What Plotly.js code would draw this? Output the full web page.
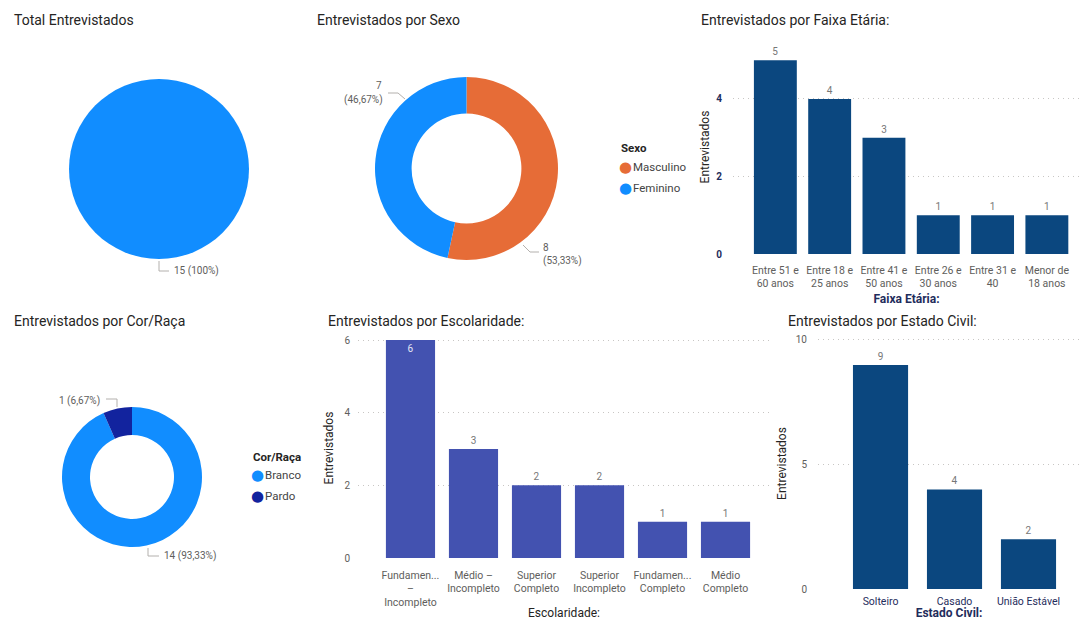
<!DOCTYPE html>
<html>
<head>
<meta charset="utf-8">
<script src="https://cdn.plot.ly/plotly-3.0.1.min.js"></script>
<style>html,body{margin:0;padding:0;background:#fff;}#chart{width:1080px;height:620px;}</style>
</head>
<body>
<div id="chart"></div>
<script>
// ---------- DATA ----------
const totalLabels = ["Total"];
const totalValues = [15];

const sexoLabels = ["Masculino", "Feminino"];
const sexoValues = [8, 7];

const racaLabels = ["Branco", "Pardo"];
const racaValues = [14, 1];

const faixaCategories = ["Entre 51 e 60 anos", "Entre 18 e 25 anos", "Entre 41 e 50 anos", "Entre 26 e 30 anos", "Entre 31 e 40", "Menor de 18 anos"];
const faixaTickLabels = ["Entre 51 e<br>60 anos", "Entre 18 e<br>25 anos", "Entre 41 e<br>50 anos", "Entre 26 e<br>30 anos", "Entre 31 e<br>40", "Menor de<br>18 anos"];
const faixaValues = [5, 4, 3, 1, 1, 1];

const escCategories = ["Fundamental – Incompleto", "Médio – Incompleto", "Superior Completo", "Superior Incompleto", "Fundamental Completo", "Médio Completo"];
const escTickLabels = ["Fundamen...<br>–<br>Incompleto", "Médio –<br>Incompleto", "Superior<br>Completo", "Superior<br>Incompleto", "Fundamen...<br>Completo", "Médio<br>Completo"];
const escValues = [6, 3, 2, 2, 1, 1];

const civilCategories = ["Solteiro", "Casado", "União Estável"];
const civilValues = [9, 4, 2];

// ---------- HELPERS ----------
const W = 1080, H = 620;
const fx = p => p / W;
const fy = p => 1 - p / H;
const FONT = "Roboto, 'Noto Sans', sans-serif";
const TITLE_C = "#252423";
const GRAY = "#605E5C";
const NAVY = "#1F2D5C";
const BLUE = "#118DFF", ORANGE = "#E66C37", DARKNAVY = "#12239E";
const BAR1 = "#0B477F", BAR2 = "#4352B0";

function fmtPct(v, tot) {
  const p = v / tot * 100;
  if (Math.abs(p - Math.round(p)) < 1e-9) return Math.round(p) + "%";
  return p.toFixed(2).replace(".", ",") + "%";
}
const sum = a => a.reduce((s, v) => s + v, 0);

function pieDomain(cx, cy, r) {
  return { x: [fx(cx - r), fx(cx + r)], y: [fy(cy + r), fy(cy - r)] };
}

// ---------- TRACES ----------
const traces = [];

traces.push({
  type: "pie", labels: totalLabels, values: totalValues,
  marker: { colors: [BLUE] }, textinfo: "none", sort: false,
  direction: "clockwise", rotation: 0, showlegend: false, hoverinfo: "label+value",
  domain: pieDomain(159, 169, 90)
});

traces.push({
  type: "pie", labels: sexoLabels, values: sexoValues, hole: 0.6,
  marker: { colors: [ORANGE, BLUE] }, textinfo: "none", sort: false,
  direction: "clockwise", rotation: 0, showlegend: false,
  domain: pieDomain(466.5, 168.5, 91.5)
});

traces.push({
  type: "pie", labels: racaLabels, values: racaValues, hole: 0.6,
  marker: { colors: [BLUE, DARKNAVY] }, textinfo: "none", sort: false,
  direction: "clockwise", rotation: 0, showlegend: false,
  domain: pieDomain(132, 477, 70)
});

traces.push({
  type: "bar", x: faixaCategories, y: faixaValues, xaxis: "x", yaxis: "y",
  marker: { color: BAR1 }, width: 0.79,
  text: faixaValues.map(String), textposition: "outside", cliponaxis: false,
  outsidetextfont: { family: FONT, size: 10, color: "#777" }, showlegend: false
});

traces.push({
  type: "bar", x: escCategories, y: escValues, xaxis: "x2", yaxis: "y2",
  marker: { color: BAR2 }, width: 0.78,
  text: escValues.map(String),
  textposition: escValues.map((v, i) => i === 0 ? "inside" : "outside"),
  insidetextanchor: "end", cliponaxis: false,
  insidetextfont: { family: FONT, size: 10, color: "#E4E6F5" },
  outsidetextfont: { family: FONT, size: 10, color: "#777" }, showlegend: false
});

traces.push({
  type: "bar", x: civilCategories, y: civilValues, xaxis: "x3", yaxis: "y3",
  marker: { color: BAR1 }, width: 0.745,
  text: civilValues.map(String), textposition: "outside", cliponaxis: false,
  outsidetextfont: { family: FONT, size: 10, color: "#777" }, showlegend: false
});

// ---------- AXES ----------
const gridStyle = { showgrid: true, gridcolor: "#C8C6C4", griddash: "1px,4px", gridwidth: 1, zeroline: false, showline: false };

const layout = {
  width: W, height: H, margin: { l: 0, r: 0, t: 0, b: 0 },
  paper_bgcolor: "#fff", plot_bgcolor: "#fff",
  font: { family: FONT, color: TITLE_C },
  separators: ",.",
  showlegend: false,
  xaxis: {
    domain: [fx(733), fx(1080)], range: [-0.78, 5.61], type: "category",
    tickvals: faixaCategories, ticktext: faixaTickLabels,
    tickfont: { size: 10.5, color: GRAY }, showgrid: false, zeroline: false,
    ticks: "outside", ticklen: 6, tickcolor: "rgba(0,0,0,0)",
    title: { text: "<b>Faixa Etária:</b>", font: { size: 12, color: NAVY }, standoff: 5 }, anchor: "y"
  },
  yaxis: Object.assign({}, gridStyle, {
    domain: [fy(254), fy(40)], range: [0, 5.52], dtick: 2, tick0: 0,
    tickfont: { size: 10, color: NAVY, weight: "bold" },
    ticks: "outside", ticklen: 8, tickcolor: "rgba(0,0,0,0)",
    title: { text: "Entrevistados", font: { size: 12, color: TITLE_C }, standoff: 4 }, anchor: "x"
  }),
  xaxis2: {
    domain: [fx(358), fx(770)], range: [-0.833, 5.706], type: "category",
    tickvals: escCategories, ticktext: escTickLabels,
    tickfont: { size: 10.5, color: GRAY }, showgrid: false, zeroline: false,
    ticks: "outside", ticklen: 7, tickcolor: "rgba(0,0,0,0)",
    title: { text: "Escolaridade:", font: { size: 12, color: TITLE_C }, standoff: 6 }, anchor: "y2"
  },
  yaxis2: Object.assign({}, gridStyle, {
    domain: [fy(558), fy(338)], range: [0, 6.055], dtick: 2, tick0: 0,
    tickfont: { size: 10, color: GRAY },
    ticks: "outside", ticklen: 5, tickcolor: "rgba(0,0,0,0)",
    title: { text: "Entrevistados", font: { size: 12, color: TITLE_C }, standoff: 8 }, anchor: "x2"
  }),
  xaxis3: {
    domain: [fx(818), 1], range: [-0.845, 2.696], type: "category",
    tickfont: { size: 10.5, color: NAVY }, showgrid: false, zeroline: false,
    ticks: "outside", ticklen: 2, tickcolor: "rgba(0,0,0,0)",
    title: { text: "<b>Estado Civil:</b>", font: { size: 12, color: NAVY }, standoff: 1 }, anchor: "y3"
  },
  yaxis3: Object.assign({}, gridStyle, {
    domain: [fy(589), fy(338)], range: [0, 10.08], dtick: 5, tick0: 0,
    tickfont: { size: 10, color: GRAY },
    ticks: "outside", ticklen: 8, tickcolor: "rgba(0,0,0,0)",
    title: { text: "Entrevistados", font: { size: 12, color: TITLE_C }, standoff: 6 }, anchor: "x3"
  }),
  annotations: [],
  shapes: []
};

// ---------- PANEL TITLES ----------
const panelTitles = [
  ["Total Entrevistados", 12, 20],
  ["Entrevistados por Sexo", 315, 20],
  ["Entrevistados por Faixa Etária:", 699, 20],
  ["Entrevistados por Cor/Raça", 12, 321],
  ["Entrevistados por Escolaridade:", 326, 321],
  ["Entrevistados por Estado Civil:", 786, 321]
];
panelTitles.forEach(([t, x, y]) => layout.annotations.push({
  text: t, xref: "paper", yref: "paper", x: fx(x), y: fy(y), xanchor: "left", yanchor: "middle",
  showarrow: false, font: { size: 14, color: TITLE_C, family: FONT }
}));

// ---------- PIE DATA LABELS + LEADERS ----------
const lblFont = { size: 10, color: GRAY, family: FONT };
function addLabel(text, x, y, xanchor) {
  layout.annotations.push({ text, xref: "paper", yref: "paper", x: fx(x), y: fy(y),
    xanchor, yanchor: "middle", showarrow: false, font: lblFont, align: xanchor });
}
function addLeader(pts) {
  const d = pts.map((p, i) => (i ? "L" : "M") + fx(p[0]) + "," + fy(p[1])).join(" ");
  layout.shapes.push({ type: "path", xref: "paper", yref: "paper", path: d, line: { color: "#B3B0AD", width: 1 } });
}
const tTot = sum(totalValues), tSex = sum(sexoValues), tRaca = sum(racaValues);

addLabel(totalValues[0] + " (" + fmtPct(totalValues[0], tTot) + ")", 172, 271, "left");
addLeader([[159, 261], [159, 271], [169, 271]]);

addLabel(String(sexoValues[1]), 384, 86, "right");
addLabel("(" + fmtPct(sexoValues[1], tSex) + ")", 385, 100, "right");
addLeader([[388, 93], [398, 93], [405, 99]]);
addLabel(String(sexoValues[0]), 541, 247, "left");
addLabel("(" + fmtPct(sexoValues[0], tSex) + ")", 541, 261, "left");
addLeader([[523, 245], [530, 252], [539, 252]]);

addLabel(racaValues[1] + " (" + fmtPct(racaValues[1], tRaca) + ")", 102, 401, "right");
addLeader([[106, 399], [117, 399], [117, 407]]);
addLabel(racaValues[0] + " (" + fmtPct(racaValues[0], tRaca) + ")", 162, 556, "left");
addLeader([[148, 548], [148, 556], [159, 556]]);

// ---------- PIE LEGENDS ----------
function addLegend(title, labels, colors, x, yTitle, yItems) {
  layout.annotations.push({ text: "<b>" + title + "</b>", xref: "paper", yref: "paper",
    x: fx(x), y: fy(yTitle), xanchor: "left", yanchor: "middle", showarrow: false,
    font: { size: 11.5, color: TITLE_C, family: FONT } });
  labels.forEach((l, i) => {
    layout.annotations.push({
      text: "●", xref: "paper", yref: "paper", x: fx(x + 6), y: fy(yItems[i] - 0.5), xanchor: "center", yanchor: "middle",
      showarrow: false, font: { size: 15, color: colors[i], family: "DejaVu Sans" } });
    layout.annotations.push({
      text: l, xref: "paper", yref: "paper", x: fx(x + 12), y: fy(yItems[i]), xanchor: "left", yanchor: "middle",
      showarrow: false, font: { size: 11.5, color: "#444", family: FONT } });
  });
}
addLegend("Sexo", sexoLabels, [ORANGE, BLUE], 619, 148, [167, 188]);
addLegend("Cor/Raça", racaLabels, [BLUE, DARKNAVY], 251, 457, [475, 496]);

Plotly.newPlot("chart", traces, layout, { displayModeBar: false, staticPlot: true });
</script>
</body>
</html>
